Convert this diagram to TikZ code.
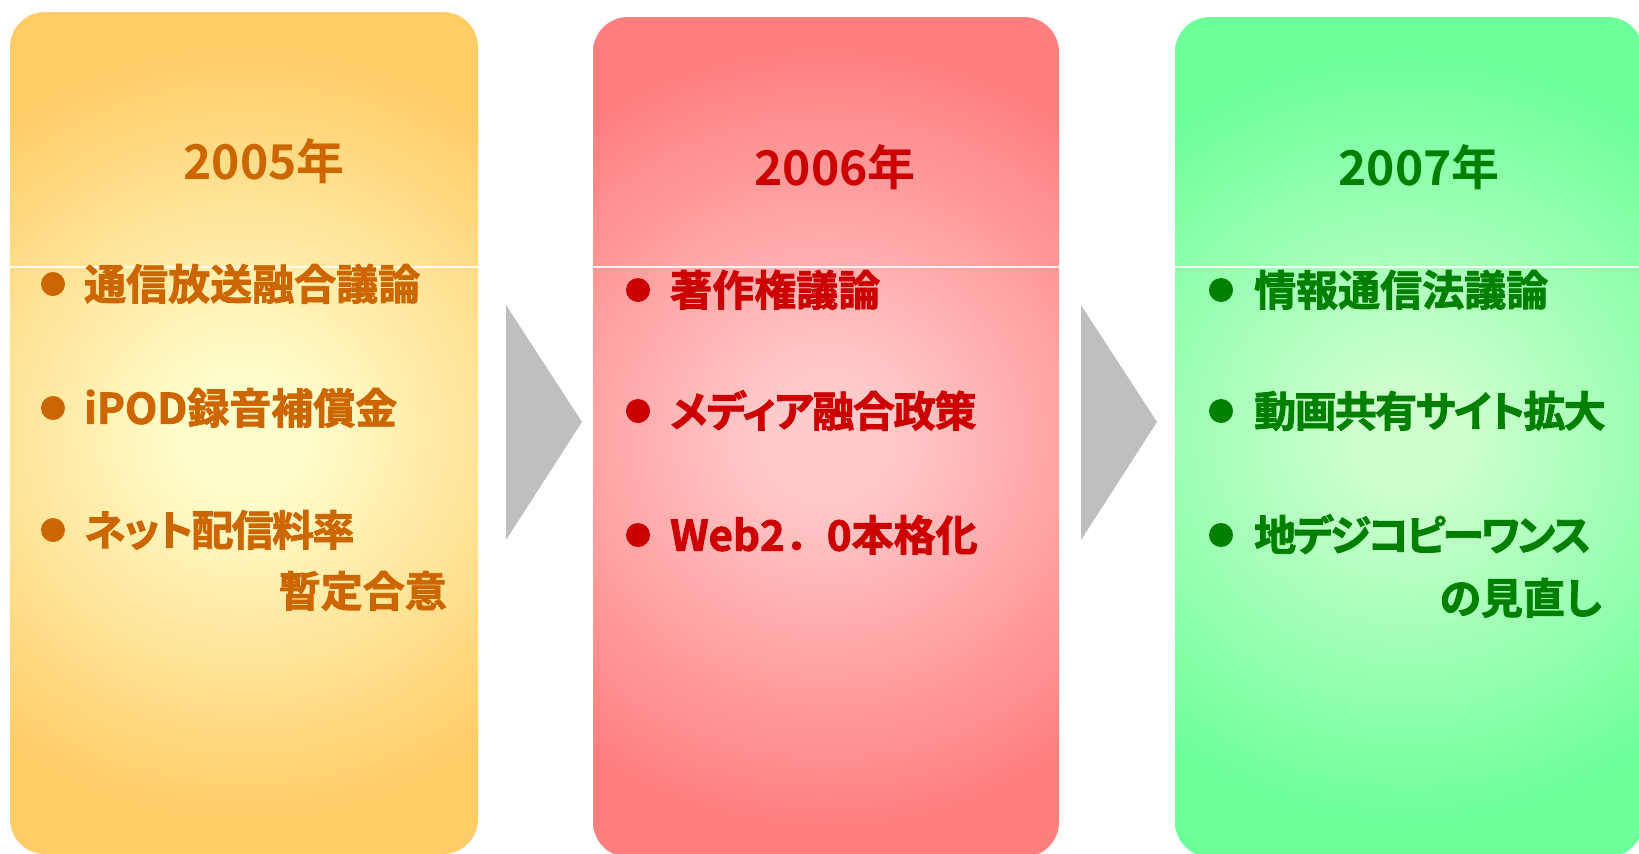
\documentclass[tikz,border=0pt]{standalone}
\usepackage{fontspec}
\usetikzlibrary{calc}
\newfontfamily\jp{Noto Sans CJK JP}[BoldFont={* Bold}]
\newfontfamily\jpp{Noto Sans CJK JP}[BoldFont={* Bold},BoldFeatures={FakeBold=2},RawFeature=+palt]
\newfontfamily\jpf{Noto Sans CJK JP}[BoldFont={* Bold},BoldFeatures={FakeBold=2}]
\definecolor{inA}{HTML}{FFFDCC}
\definecolor{outA}{HTML}{FFCC66}
\definecolor{inB}{HTML}{FFCACA}
\definecolor{outB}{HTML}{FF7F7F}
\definecolor{inC}{HTML}{CCFFCC}
\definecolor{outC}{HTML}{6CFF9A}
\definecolor{txtA}{HTML}{CC6600}
\definecolor{txtB}{HTML}{CC0000}
\definecolor{txtC}{HTML}{007F00}
\definecolor{arrowgray}{HTML}{BFBFBF}
\pgfdeclareradialshading{shA}{\pgfpoint{0bp}{0bp}}{color(0bp)=(inA); color(3.5bp)=(inA); color(23bp)=(outA); color(50bp)=(outA)}
\pgfdeclareradialshading{shB}{\pgfpoint{0bp}{0bp}}{color(0bp)=(inB); color(3.5bp)=(inB); color(23bp)=(outB); color(50bp)=(outB)}
\pgfdeclareradialshading{shC}{\pgfpoint{0bp}{0bp}}{color(0bp)=(inC); color(3.5bp)=(inC); color(23bp)=(outC); color(50bp)=(outC)}
\tikzset{
  panel/.style={rectangle, rounded corners=35pt, draw=none, inner sep=0pt,
    path picture={\shade[shading=#1]
      ($(path picture bounding box.south west)+(-200pt,0)$) rectangle
      ($(path picture bounding box.north east)+(200pt,0)$);}},
  year/.style={inner sep=0pt, font=\jp\bfseries\fontsize{48pt}{50pt}\selectfont},
  item/.style={inner sep=0pt, anchor=west, text height=35pt, text depth=3.5pt,
    font=\jpp\bfseries\fontsize{42pt}{44pt}\selectfont},
  itemfw/.style={item, font=\jpf\bfseries\fontsize{42pt}{44pt}\selectfont},
  itemcont/.style={item, anchor=east},
  bullet/.style={circle, inner sep=0pt, minimum size=24pt},
  chevron/.style={fill=arrowgray, draw=none},
  divider/.style={draw=white, line width=1.2pt, opacity=0.85}
}
\begin{document}
\begin{tikzpicture}[x=1pt,y=-1pt]
\useasboundingbox (0,0) rectangle (1639,854);
% panels
\node[panel=shA, minimum width=468pt, minimum height=842pt] (p1) at (244,433) {};
\node[panel=shB, minimum width=466pt, minimum height=840pt] (p2) at (826,437) {};
\node[panel=shC, minimum width=468pt, minimum height=840pt] (p3) at (1409,437) {};
% dividers
\draw[divider] (p1.west |- 0,267) -- (p1.east |- 0,267);
\draw[divider] (p2.west |- 0,267) -- (p2.east |- 0,267);
\draw[divider] (p3.west |- 0,267) -- (p3.east |- 0,267);
% chevrons
\fill[chevron] (506,305) -- (582,422) -- (506,540) -- cycle;
\fill[chevron] (1081,305) -- (1157,422) -- (1081,540) -- cycle;
% years
\node[year, text=txtA] (y1) at (264,161) {2005年};
\node[year, text=txtB] (y2) at (835,167) {2006年};
\node[year, text=txtC] (y3) at (1419,167) {2007年};
% panel 1 items
\node[bullet, fill=txtA] (a1b) at (53,284) {};
\node[item, text=txtA] (a1) at (84,284) {通信放送融合議論};
\node[bullet, fill=txtA] (a2b) at (53,408) {};
\node[item, text=txtA] (a2) at (84,408) {iPOD録音補償金};
\node[bullet, fill=txtA] (a3b) at (53,530) {};
\node[item, text=txtA] (a3) at (84,530) {\addfontfeature{LetterSpace=-4}ネット配信料率};
\node[itemcont, text=txtA] (a3c) at (447,591) {暫定合意};
% panel 2 items
\node[bullet, fill=txtB] (b1b) at (638,290) {};
\node[item, text=txtB] (b1) at (670,290) {著作権議論};
\node[bullet, fill=txtB] (b2b) at (638,411) {};
\node[item, text=txtB] (b2) at (670,411) {\addfontfeature{LetterSpace=-3}メディア融合政策};
\node[bullet, fill=txtB] (b3b) at (638,535) {};
\node[itemfw, text=txtB] (b3) at (670,535) {Web2．0本格化};
% panel 3 items
\node[bullet, fill=txtC] (c1b) at (1221,290) {};
\node[item, text=txtC] (c1) at (1254,290) {情報通信法議論};
\node[bullet, fill=txtC] (c2b) at (1221,411) {};
\node[item, text=txtC] (c2) at (1254,411) {\addfontfeature{LetterSpace=-4}動画共有サイト拡大};
\node[bullet, fill=txtC] (c3b) at (1221,535) {};
\node[item, text=txtC] (c3) at (1254,535) {\addfontfeature{LetterSpace=-7}地デジコピーワンス};
\node[itemcont, text=txtC] (c3c) at (1602,598) {の見直し};
\end{tikzpicture}
\end{document}
